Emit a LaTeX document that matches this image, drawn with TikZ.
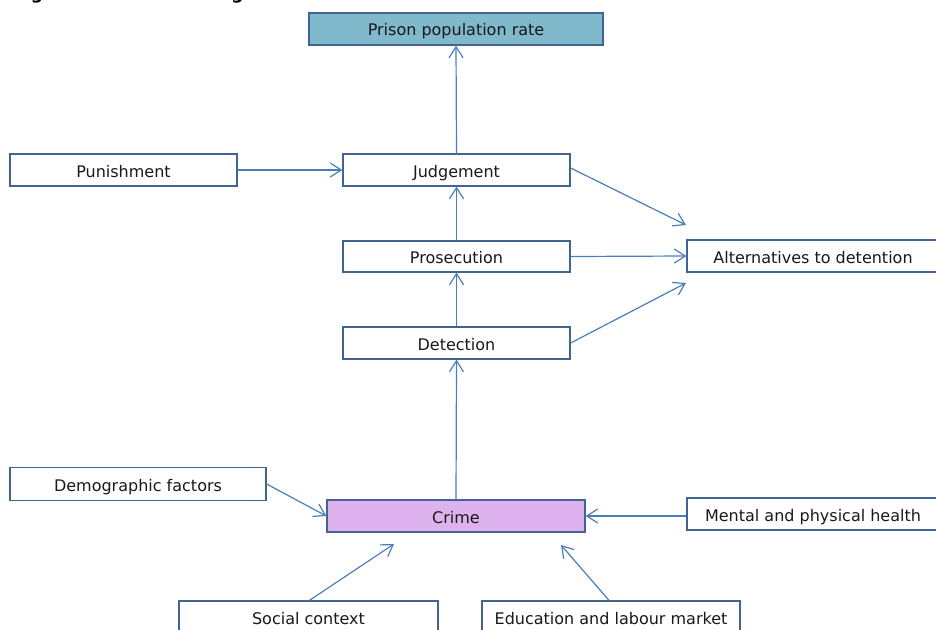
\documentclass[tikz,border=0pt]{standalone}
\usepackage{fontspec}
\setmainfont{DejaVu Sans}
\usetikzlibrary{arrows.meta}
\definecolor{linkblue}{RGB}{74,126,187}
\definecolor{boxedge}{RGB}{66,100,145}
\definecolor{prisonfill}{RGB}{128,184,204}
\definecolor{crimefill}{RGB}{221,178,238}
\definecolor{txt}{RGB}{25,25,25}
\tikzset{
  factor/.style={draw=boxedge, line width=1.3pt, fill=white, rectangle, inner sep=0pt,
    font=\fontsize{16}{18}\selectfont, text=txt, text height=14pt, text depth=0pt},
  link/.style={draw=linkblue, line width=1.2pt, -{Straight Barb[length=11pt,width=14pt,line width=1.2pt]}},
}
\begin{document}
\begin{tikzpicture}[x=1pt,y=-1pt]
\useasboundingbox (0,0) rectangle (936,629);
\node[anchor=base west, font=\fontsize{17}{20}\selectfont\bfseries, text=black] (title) at (10,-0.5) {Figure 3: Research diagram};

\node[factor, fill=prisonfill, minimum width=294pt, minimum height=32pt, text height=13pt] (prison) at (456,29) {Prison population rate};
\node[factor, minimum width=227pt, minimum height=32pt] (punish) at (123.5,170) {Punishment};
\node[factor, minimum width=227pt, minimum height=32pt] (judge) at (456.5,170) {Judgement};
\node[factor, minimum width=227pt, minimum height=31pt] (prosec) at (456.5,256.5) {Prosecution};
\node[factor, minimum width=252pt, minimum height=32pt] (alt) at (813,256) {Alternatives to detention};
\node[factor, minimum width=227pt, minimum height=32pt] (detect) at (456.5,343) {Detection};
\node[factor, minimum width=256pt, minimum height=33pt] (demo) at (138,484) {Demographic factors};
\node[factor, fill=crimefill, minimum width=258pt, minimum height=32pt] (crime) at (456,516) {Crime};
\node[factor, minimum width=252pt, minimum height=32pt] (mental) at (813,514) {Mental and physical health};
\node[factor, minimum width=259pt, minimum height=32pt] (social) at (308.5,617) {Social context};
\node[factor, minimum width=258pt, minimum height=32pt] (edu) at (611,617) {Education and labour market};

\coordinate (altA) at (686,225);
\coordinate (altC) at (686,283);
\coordinate (crimeSW) at (394,544);
\coordinate (crimeSE) at (561,545);

\draw[link] (judge.north) -- (prison.south);
\draw[link] (punish.east) -- (judge.west);
\draw[link] (prosec.north) -- (judge.south);
\draw[link] (detect.north) -- (prosec.south);
\draw[link] (crime.north) -- (detect.south);
\draw[link] ([yshift=2pt]judge.east) -- (altA);
\draw[link] (prosec.east) -- (alt.west);
\draw[link] (detect.east) -- (altC);
\draw[link] (demo.east) -- (crime.west);
\draw[link] (mental.west |- crime.east) -- (crime.east);
\draw[link] ([xshift=1pt]social.north) -- (crimeSW);
\draw[link] ([xshift=-2pt]edu.north) -- (crimeSE);
\end{tikzpicture}
\end{document}
